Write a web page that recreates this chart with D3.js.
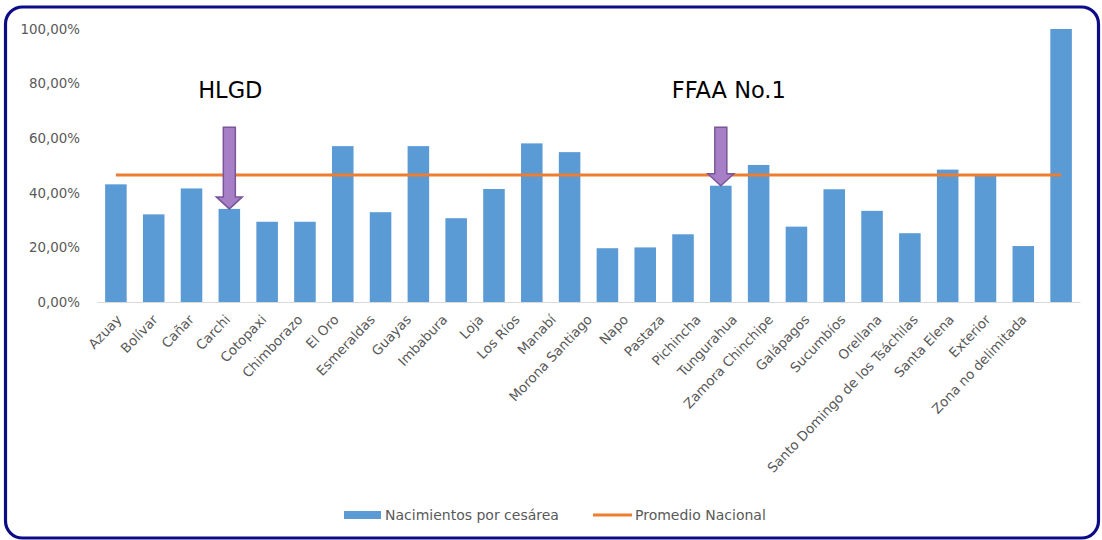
<!DOCTYPE html>
<html>
<head>
<meta charset="utf-8">
<script src="https://cdn.jsdelivr.net/npm/d3@7"></script>
<style>
  html, body { margin: 0; padding: 0; background: #fff; }
  svg { display: block; }
  text { font-family: "DejaVu Sans", "Open Sans", sans-serif; }
</style>
</head>
<body>
<svg id="chart" width="1102" height="540"></svg>
<script>
const categories = ["Azuay","Bolívar","Cañar","Carchi","Cotopaxi","Chimborazo","El Oro","Esmeraldas","Guayas","Imbabura","Loja","Los Ríos","Manabí","Morona Santiago","Napo","Pastaza","Pichincha","Tungurahua","Zamora Chinchipe","Galápagos","Sucumbíos","Orellana","Santo Domingo de los Tsáchilas","Santa Elena","Exterior","Zona no delimitada"];
const cesareaValues = [0.431,0.321,0.416,0.341,0.294,0.294,0.571,0.329,0.571,0.307,0.414,0.581,0.549,0.197,0.200,0.248,0.426,0.502,0.276,0.413,0.334,0.252,0.485,0.462,0.205,1.000];
const promedioNacional = 0.465;
const yTicks = [0, 0.2, 0.4, 0.6, 0.8, 1.0];
const seriesNames = ["Nacimientos por cesárea", "Promedio Nacional"];
const annotations = [
  { category: "Carchi", label: "HLGD", labelShift: 1 },
  { category: "Pichincha", label: "FFAA No.1", labelShift: 8 }
];
const arrowTop = 0.64;

const FONT = "'DejaVu Sans', 'Open Sans', sans-serif";
const svg = d3.select("#chart");
const W = 1102, H = 540;
svg.append("rect").attr("width", W).attr("height", H).attr("fill", "#fff");

// border
svg.append("rect")
  .attr("x", 5.5).attr("y", 7).attr("width", 1093).attr("height", 531)
  .attr("rx", 17).attr("ry", 17)
  .attr("fill", "none").attr("stroke", "#0c0c86").attr("stroke-width", 3.2);

const x = d3.scaleBand().domain(categories).range([97, 1080]).paddingInner(0.43).paddingOuter(0.215);
const y = d3.scaleLinear().domain([0, 1]).range([302, 29]);
// label anchor positions (labels are set slightly tighter than the bars in the original)
const xLabel = d3.scalePoint().domain(categories).range([119, 1024]);

const loc = d3.formatLocale({ decimal: ",", thousands: ".", grouping: [3], currency: ["$", ""], percent: "%" });
const fmt = loc.format(".2%");

// y axis labels
const yAxis = d3.axisLeft(y).tickValues(yTicks).tickFormat(fmt).tickSize(0).tickPadding(0);
const gy = svg.append("g").attr("transform", "translate(80,0)").call(yAxis);
gy.select(".domain").remove();
gy.selectAll("text").attr("fill", "#595959").attr("font-size", 13.4)
  .style("font-family", FONT);

// bars
svg.append("g").selectAll("rect").data(categories).join("rect")
  .attr("x", d => x(d))
  .attr("width", x.bandwidth())
  .attr("y", (d, i) => y(cesareaValues[i]))
  .attr("height", (d, i) => y(0) - y(cesareaValues[i]))
  .attr("fill", "#5b9bd5");

// x axis
const cx = d => x(d) + x.bandwidth() / 2;
const xAxis = d3.axisBottom(x).tickSize(0).tickPadding(0);
const gx = svg.append("g").attr("transform", `translate(0,${y(0)})`).call(xAxis);
gx.select(".domain").attr("stroke", "#d9d9d9").attr("stroke-width", 1.2);
gx.selectAll(".tick text")
  .attr("fill", "#595959").attr("font-size", 13.4)
  .style("font-family", FONT)
  .attr("text-anchor", "end")
  .attr("dy", "0.35em")
  .attr("transform", d => `translate(${xLabel(d) - cx(d)},15) rotate(-46.5)`);

// average line
svg.append("line")
  .attr("x1", cx(categories[0])).attr("x2", cx(categories[categories.length - 1]))
  .attr("y1", y(promedioNacional)).attr("y2", y(promedioNacional))
  .attr("stroke", "#ed7d31").attr("stroke-width", 3);

// annotations
annotations.forEach(a => {
  const i = categories.indexOf(a.category);
  const c = cx(a.category);
  const tip = y(cesareaValues[i]);
  const top = y(arrowTop);
  const sw = 6, hw = 13, hh = 12;
  const p = d3.path();
  p.moveTo(c - sw, top);
  p.lineTo(c + sw, top);
  p.lineTo(c + sw, tip - hh);
  p.lineTo(c + hw, tip - hh);
  p.lineTo(c, tip);
  p.lineTo(c - hw, tip - hh);
  p.lineTo(c - sw, tip - hh);
  p.closePath();
  svg.append("path").attr("d", p.toString())
    .attr("fill", "#a67fc6").attr("stroke", "#7a5699").attr("stroke-width", 1.5);
  svg.append("text")
    .attr("x", c + a.labelShift).attr("y", 90)
    .attr("dy", "0.35em")
    .attr("text-anchor", "middle")
    .attr("font-size", 22.5)
    .attr("fill", "#000")
    .text(a.label);
});

// legend
const lg = svg.append("g");
lg.append("rect").attr("x", 344).attr("y", 511).attr("width", 37).attr("height", 8).attr("fill", "#5b9bd5");
lg.append("text").attr("x", 385).attr("y", 515).attr("dy", "0.35em").attr("font-size", 14)
  .attr("fill", "#595959").text(seriesNames[0]);
lg.append("line").attr("x1", 593).attr("x2", 632).attr("y1", 515).attr("y2", 515)
  .attr("stroke", "#ed7d31").attr("stroke-width", 3);
lg.append("text").attr("x", 635).attr("y", 515).attr("dy", "0.35em").attr("font-size", 14)
  .attr("fill", "#595959").text(seriesNames[1]);
</script>
</body>
</html>
